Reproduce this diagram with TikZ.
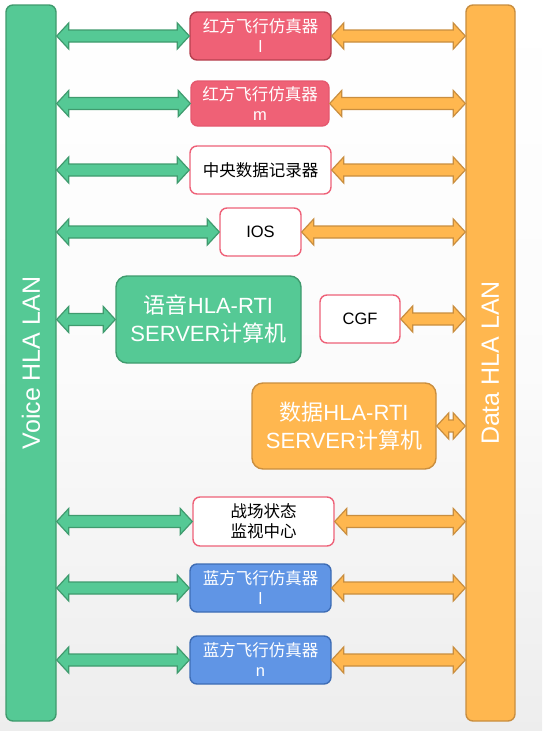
\documentclass[tikz,border=0pt]{standalone}
\usepackage{fontspec}
\setmainfont{Liberation Sans}
\newfontfamily\cjk{Noto Sans CJK SC}
\usetikzlibrary{calc}
\definecolor{gfill}{HTML}{55C995}
\definecolor{gline}{HTML}{3F9B6E}
\definecolor{ofill}{HTML}{FFB74F}
\definecolor{oline}{HTML}{C98E3F}
\definecolor{rfill}{HTML}{EF6176}
\definecolor{rline}{HTML}{B5404F}
\definecolor{rline2}{HTML}{E5596F}
\definecolor{bfill}{HTML}{6095E5}
\definecolor{bline}{HTML}{3E6DB5}
\definecolor{pline}{HTML}{EE6178}
\newcommand{\dblarr}[3]{%
  \draw[#1] let \p1=(#2), \p2=(#3) in
    (\x1,\y1) -- (\x1+12,\y1+13) -- (\x1+12,\y1+6) -- (\x2-12,\y1+6)
    -- (\x2-12,\y1+13) -- (\x2,\y1) -- (\x2-12,\y1-13) -- (\x2-12,\y1-6)
    -- (\x1+12,\y1-6) -- (\x1+12,\y1-13) -- cycle;}
\tikzset{
  box/.style={rounded corners=7pt, line width=1.4pt, inner sep=0pt, align=center,
    font=\fontsize{16.5}{20}\selectfont},
  redbox/.style={box, fill=rfill, draw=rline, text=white},
  redbox2/.style={box, fill=rfill, draw=rline2, text=white},
  whitebox/.style={box, fill=white, draw=pline, text=black},
  bluebox/.style={box, fill=bfill, draw=bline, text=white},
  bigbox/.style={rounded corners=11pt, line width=1.4pt, inner sep=0pt, align=center,
    text=white, font=\fontsize{22}{28}\selectfont},
  bar/.style={rounded corners=7pt, line width=1.4pt, inner sep=0pt},
  garr/.style={fill=gfill, draw=gline, line width=1.2pt, line join=miter},
  oarr/.style={fill=ofill, draw=oline, line width=1.2pt, line join=miter},
}
\begin{document}
\begin{tikzpicture}[x=1pt, y=-1pt]
\useasboundingbox (0,0) rectangle (542,731);
\shade[top color=white, bottom color=gray!14, middle color=white!97!gray] (0,0) rectangle (542,731);

% bars
\node[bar, fill=gfill, draw=gline, minimum width=50pt, minimum height=716pt] (lbar) at (31,363) {};
\node[bar, fill=ofill, draw=oline, minimum width=49pt, minimum height=716pt] (rbar) at (490.5,363) {};
\node[rotate=90, text=white, font=\fontsize{25}{30}\selectfont] (ltxt) at (lbar.center) {Voice HLA LAN};
\node[rotate=90, text=white, font=\fontsize{25}{30}\selectfont] (rtxt) at (rbar.center) {Data HLA LAN};

% boxes
\node[redbox, minimum width=141pt, minimum height=48pt] (b1) at (260.5,36) {{\cjk 红方飞行仿真器}\\l};
\node[redbox2, minimum width=138pt, minimum height=45pt] (b2) at (260,103.5) {{\cjk 红方飞行仿真器}\\m};
\node[whitebox, minimum width=141pt, minimum height=48pt] (b3) at (260.5,170) {\cjk 中央数据记录器};
\node[whitebox, minimum width=81pt, minimum height=48pt] (b4) at (260.5,232) {IOS};
\node[bigbox, fill=gfill, draw=gline, minimum width=185pt, minimum height=87pt] (voice) at (208.5,319.5) {{\cjk 语音}HLA-RTI\\SERVER{\cjk 计算机}};
\node[whitebox, minimum width=80pt, minimum height=48pt] (cgf) at (360,319) {CGF};
\node[bigbox, fill=ofill, draw=oline, minimum width=184pt, minimum height=86pt] (data) at (344,426) {{\cjk 数据}HLA-RTI\\SERVER{\cjk 计算机}};
\node[whitebox, minimum width=141pt, minimum height=49pt] (zc) at (263.5,521.5) {\cjk 战场状态\\\cjk 监视中心};
\node[bluebox, minimum width=141pt, minimum height=48pt] (bl1) at (260.5,588) {{\cjk 蓝方飞行仿真器}\\l};
\node[bluebox, minimum width=141pt, minimum height=48pt] (bl2) at (260.5,660) {{\cjk 蓝方飞行仿真器}\\n};

% arrows
\dblarr{garr}{lbar.east |- b1.west}{b1.west}
\dblarr{oarr}{b1.east}{rbar.west |- b1.east}
\dblarr{garr}{lbar.east |- b2.west}{b2.west}
\dblarr{oarr}{b2.east}{rbar.west |- b2.east}
\dblarr{garr}{lbar.east |- b3.west}{b3.west}
\dblarr{oarr}{b3.east}{rbar.west |- b3.east}
\dblarr{garr}{lbar.east |- b4.west}{b4.west}
\dblarr{oarr}{b4.east}{rbar.west |- b4.east}
\dblarr{garr}{lbar.east |- voice.west}{voice.west}
\dblarr{oarr}{cgf.east}{rbar.west |- cgf.east}
\dblarr{oarr}{data.east}{rbar.west |- data.east}
\dblarr{garr}{lbar.east |- zc.west}{zc.west}
\dblarr{oarr}{zc.east}{rbar.west |- zc.east}
\dblarr{garr}{lbar.east |- bl1.west}{bl1.west}
\dblarr{oarr}{bl1.east}{rbar.west |- bl1.east}
\dblarr{garr}{lbar.east |- bl2.west}{bl2.west}
\dblarr{oarr}{bl2.east}{rbar.west |- bl2.east}
\end{tikzpicture}
\end{document}
